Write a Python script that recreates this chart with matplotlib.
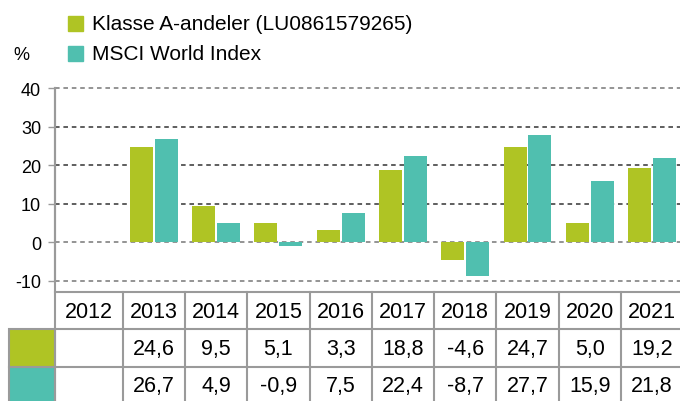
import numpy as np
import matplotlib.pyplot as plt
from matplotlib.patches import Rectangle
from matplotlib.transforms import blended_transform_factory

plt.rcParams['font.family'] = ['Liberation Sans', 'DejaVu Sans']

years = ['2012', '2013', '2014', '2015', '2016', '2017', '2018', '2019', '2020', '2021']
fund = [np.nan, 24.6, 9.5, 5.1, 3.3, 18.8, -4.6, 24.7, 5.0, 19.2]
msci = [np.nan, 26.7, 4.9, -0.9, 7.5, 22.4, -8.7, 27.7, 15.9, 21.8]
fund_lbl = ['', '24,6', '9,5', '5,1', '3,3', '18,8', '-4,6', '24,7', '5,0', '19,2']
msci_lbl = ['', '26,7', '4,9', '-0,9', '7,5', '22,4', '-8,7', '27,7', '15,9', '21,8']
names = ['Klasse A-andeler (LU0861579265)', 'MSCI World Index']

green = '#AFC424'
teal = '#50BFAF'
grid_c = '#9a9a9a'

W, H = 680, 402
fig = plt.figure(figsize=(W / 100, H / 100), dpi=100)

# overlay in pixel coords for legend / table
ov = fig.add_axes([0, 0, 1, 1])
ov.set_xlim(0, W)
ov.set_ylim(H, 0)
ov.axis('off')

# main bar axes: y 40 at px 89, -10 at px 282; x from px 55 to 680
ax = fig.add_axes([55 / W, 1 - 282 / H, (680 - 55) / W, (282 - 89) / H])
ax.set_zorder(2)
ax.patch.set_alpha(0)
x = np.arange(len(years))
xl = -0.5 - 5.5 / 62.3
ax.set_xlim(xl, 9 + 28 / 62.3)
ax.set_ylim(-10, 40)
ax.bar(x - 0.2, fund, width=0.37, color=green, zorder=3)
ax.bar(x + 0.2, msci, width=0.37, color=teal, zorder=3)

for v in range(-10, 41, 10):
    c = '#333333' if v in (10, 20, 30) else '#777777'
    ax.axhline(v, color=c, lw=1.1, ls=(0, (3, 2.5)), zorder=1, clip_on=False)
ax.set_yticks(range(-10, 41, 10))
ax.set_yticklabels([str(v) for v in range(-10, 41, 10)], fontsize=13)
ax.tick_params(axis='y', length=5, width=1, color=grid_c, pad=5)
ax.tick_params(axis='x', bottom=False, labelbottom=False)
for s in ['top', 'right', 'bottom']:
    ax.spines[s].set_visible(False)
ax.spines['left'].set_color(grid_c)
ax.spines['left'].set_linewidth(1.5)

# legend
ov.text(13, 56, '%', fontsize=13, va='center', ha='left')
ov.add_patch(Rectangle((68, 17), 15, 15, color=green))
ov.add_patch(Rectangle((68, 47), 15, 15, color=teal))
ov.text(92, 25, names[0], fontsize=15, va='center', ha='left')
ov.text(92, 55, names[1], fontsize=15, va='center', ha='left')

# table
tr = blended_transform_factory(ax.transData, ov.transData)
lw = 1.5
edges = [xl] + [i + 0.5 for i in range(len(years))]
y_top, y1, y2 = 293, 330, 368
ov.add_patch(Rectangle((9, y1), 46, y2 - y1, facecolor=green, edgecolor=grid_c, lw=lw))
ov.add_patch(Rectangle((9, y2), 46, 40, facecolor=teal, edgecolor=grid_c, lw=lw))
ov.plot([55, 55], [89, H + 5], color=grid_c, lw=lw)
for yy in (y_top, y1, y2):
    ov.plot([edges[0], edges[-1]], [yy, yy], color=grid_c, lw=lw, transform=tr, clip_on=False)
for e in edges[1:]:
    ov.plot([e, e], [y_top, H + 5], color=grid_c, lw=lw, transform=tr, clip_on=False)
for i in range(len(years)):
    cx = (edges[i] + edges[i + 1]) / 2
    ov.text(cx, (y_top + y1) / 2 + 1, years[i], fontsize=15.5, ha='center', va='center', transform=tr)
    ov.text(cx, (y1 + y2) / 2 + 1, fund_lbl[i], fontsize=15.5, ha='center', va='center', transform=tr)
    ov.text(cx, (y2 + 402) / 2 + 2, msci_lbl[i], fontsize=15.5, ha='center', va='center', transform=tr)

fig.savefig('out.png', dpi=100)
